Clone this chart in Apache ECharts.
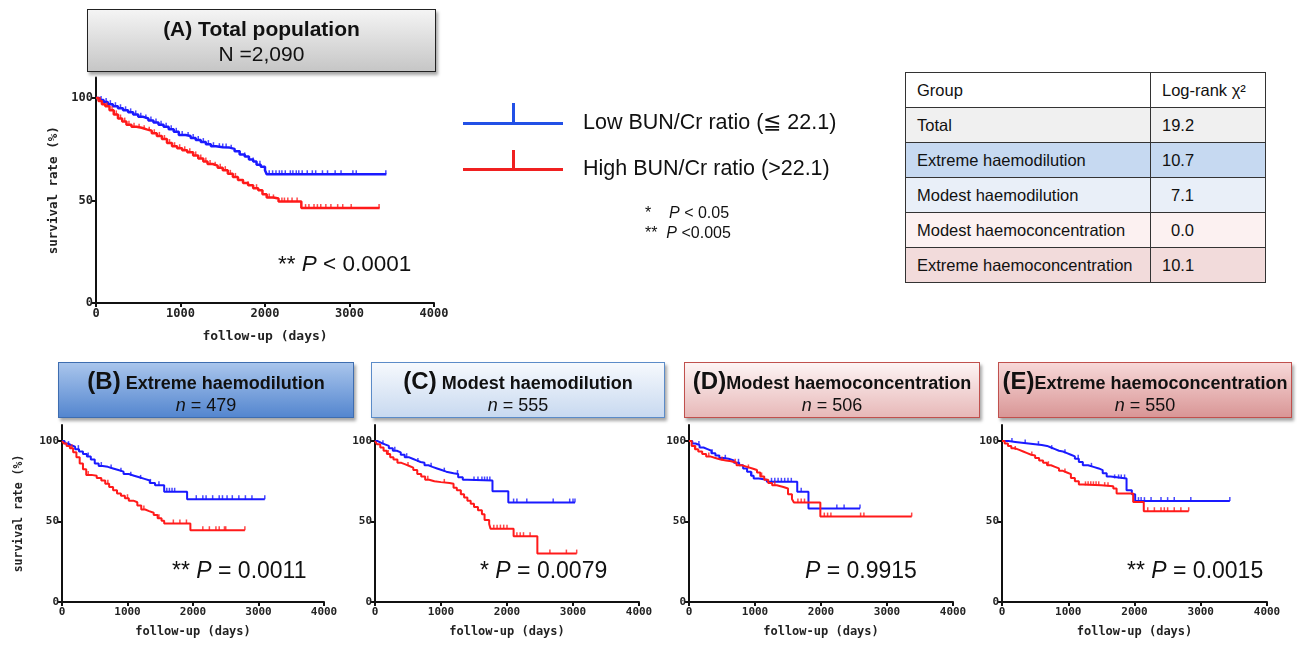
<!DOCTYPE html>
<html>
<head>
<meta charset="utf-8">
<script src="https://cdn.jsdelivr.net/npm/echarts@6.0.0/dist/echarts.min.js"></script>
<style>
  body { margin: 0; background: #fff; font-family: "Liberation Sans", Arial, sans-serif; color: #111; }
  #chart { position: absolute; left: 0; top: 0; width: 1297px; height: 660px; }
  .box { position: absolute; box-sizing: border-box; text-align: center; white-space: nowrap;
         box-shadow: 2px 3px 3px rgba(0,0,0,0.35); }
  .box .t1 { font-weight: bold; font-size: 18px; line-height: 22px; }
  .box .t1 b { font-size: 24px; }
  .box .t2 { font-size: 18px; line-height: 22px; }
  .pval { position: absolute; font-size: 23px; line-height: 1; white-space: nowrap; }
  .legline { position: absolute; height: 3px; width: 100px; }
  .legtick { position: absolute; width: 3px; height: 20px; }
  .legtext { position: absolute; font-size: 21.5px; line-height: 24px; white-space: nowrap; }
  .sig { position: absolute; font-size: 16px; line-height: 20px; white-space: nowrap; }
  table.chi { position: absolute; left: 905px; top: 72px; border-collapse: collapse; font-size: 16.5px; }
  table.chi td { border: 1.5px solid #333; height: 35px; padding: 0 0 0 11px; box-sizing: border-box; }
</style>
</head>
<body>
<div id="chart"></div>

<div class="box" style="left:87px;top:9px;width:349px;height:63px;border:1px solid #222;
  background:linear-gradient(#f4f4f4,#c6c6c6);padding-top:6px;">
  <div class="t1" style="font-size:21px;line-height:25px;">(A) Total population</div>
  <div class="t2" style="font-size:21px;line-height:25px;">N =2,090</div>
</div>
<div class="box" style="left:58px;top:362px;width:296px;height:56px;border:1px solid #3e6db0;
  background:linear-gradient(#a9c5ec,#5486cf);padding-top:7px;">
  <div class="t1"><b>(B)</b> Extreme haemodilution</div>
  <div class="t2"><i>n</i> = 479</div>
</div>
<div class="box" style="left:371px;top:362px;width:294px;height:56px;border:1px solid #5b8bc8;
  background:linear-gradient(#f6f9fd,#c8d9f0);padding-top:7px;">
  <div class="t1"><b>(C)</b> Modest haemodilution</div>
  <div class="t2"><i>n</i> = 555</div>
</div>
<div class="box" style="left:684px;top:362px;width:296px;height:56px;border:1px solid #c0504d;
  background:linear-gradient(#fdf4f4,#e7b8b8);padding-top:7px;">
  <div class="t1"><b>(D)</b>Modest haemoconcentration</div>
  <div class="t2"><i>n</i> = 506</div>
</div>
<div class="box" style="left:998px;top:362px;width:294px;height:56px;border:1px solid #c0504d;
  background:linear-gradient(#f7d8d8,#d99696);padding-top:7px;">
  <div class="t1"><b>(E)</b>Extreme haemoconcentration</div>
  <div class="t2"><i>n</i> = 550</div>
</div>

<div class="pval" style="left:278px;top:253px;font-size:22.5px;">** <i>P</i> &lt; 0.0001</div>
<div class="pval" style="left:172px;top:559px;">** <i>P</i> = 0.0011</div>
<div class="pval" style="left:480px;top:559px;">* <i>P</i> = 0.0079</div>
<div class="pval" style="left:805px;top:559px;"><i>P</i> = 0.9915</div>
<div class="pval" style="left:1127px;top:559px;">** <i>P</i> = 0.0015</div>

<div class="legline" style="left:463px;top:122px;background:#2250e6;"></div>
<div class="legtick" style="left:512px;top:103px;background:#2250e6;"></div>
<div class="legtext" style="left:583px;top:110px;">Low BUN/Cr ratio (≦ 22.1)</div>
<div class="legline" style="left:463px;top:168px;background:#f02020;"></div>
<div class="legtick" style="left:512px;top:150px;background:#f02020;"></div>
<div class="legtext" style="left:583px;top:156px;">High BUN/Cr ratio (&gt;22.1)</div>
<div class="sig" style="left:645px;top:203px;">*&nbsp;&nbsp;&nbsp; <i>P</i> &lt; 0.05</div>
<div class="sig" style="left:645px;top:223px;">** &nbsp;<i>P</i> &lt;0.005</div>

<table class="chi">
  <tr style="background:#ffffff"><td style="width:245px">Group</td><td style="width:115px">Log-rank χ²</td></tr>
  <tr style="background:#f0f0f0"><td>Total</td><td>19.2</td></tr>
  <tr style="background:#c6d9f1"><td>Extreme haemodilution</td><td>10.7</td></tr>
  <tr style="background:#e9eff8"><td>Modest haemodilution</td><td style="padding-left:20px">7.1</td></tr>
  <tr style="background:#fcf1f1"><td>Modest haemoconcentration</td><td style="padding-left:20px">0.0</td></tr>
  <tr style="background:#f2dbdb"><td>Extreme haemoconcentration</td><td>10.1</td></tr>
</table>

<script>
// Kaplan-Meier curves: [days, survival %]
var totalLow = [[0,100],[40,99],[90,98],[140,97],[200,96],[260,95],[320,94],[380,93],[440,92],[500,90.8],[560,90],[620,89],[680,88],[740,87],[800,86],[860,84.8],[920,83.5],[980,82],[1060,81.5],[1120,80.5],[1180,79.5],[1240,78.5],[1300,77.5],[1360,76.5],[1420,76],[1500,75.8],[1580,75.2],[1640,74],[1700,72.5],[1760,71.5],[1810,70],[1860,69],[1900,67.5],[1950,66.5],[2000,64.8],[2020,62.8],[3436,62.8]];
var totalHigh = [[0,100],[30,98.5],[70,97],[110,96],[160,94],[210,92],[260,90],[310,88.5],[360,87],[420,86],[480,85.5],[540,84.7],[600,84],[660,82.8],[720,81.5],[780,80],[840,78],[900,76.5],[960,75.5],[1020,74.5],[1080,73.5],[1150,72],[1210,70.5],[1270,69],[1320,67.8],[1380,67],[1440,66],[1500,64.8],[1560,63],[1620,61.5],[1680,60],[1740,58.5],[1800,57.5],[1860,56],[1920,55],[1970,53],[2020,51.5],[2100,51],[2160,49.5],[2430,46.3],[3357,46.3]];
var totalLowCens = [60,120,170,230,290,350,410,470,530,590,650,710,770,830,890,950,1020,1090,1150,1210,1270,1330,1390,1460,1500,1540,1600,1700,1760,1860,1940,2050,2090,2130,2170,2200,2240,2300,2330,2370,2400,2440,2500,2560,2600,2680,2740,2830,2900,3040,3080,3430];
var totalHighCens = [50,130,190,240,290,340,390,450,510,570,630,690,750,810,870,930,990,1050,1110,1180,1240,1300,1350,1410,1470,1530,1590,1650,1740,1800,1900,2050,2100,2200,2230,2270,2320,2380,2480,2520,2580,2620,2660,2720,2780,2860,2920,3020,3350];

var extDilLow = [[0,100],[40,98.5],[90,97.5],[140,96.5],[200,95],[260,93.5],[320,92],[380,90.5],[440,88.5],[500,86],[560,84.5],[620,84],[700,83],[780,82],[860,81],[940,79.5],[1020,78.5],[1100,77.5],[1180,76.5],[1260,75.5],[1340,74],[1420,72.5],[1560,68.5],[1910,63.9],[3096,63.9]];
var extDilHigh = [[0,100],[30,98.5],[70,97],[120,95.5],[170,93],[220,90],[270,86],[320,82.5],[370,79],[450,78.5],[530,77],[600,75.5],[660,73.5],[720,71.5],[780,69.5],[840,67.5],[900,66],[960,64.5],[1020,63],[1090,62],[1150,60],[1210,57.5],[1270,56.5],[1330,55.5],[1400,54],[1460,52],[1520,50.5],[1560,48.8],[1960,44.6],[2792,44.6]];
var extDilLowCens = [100,250,400,600,750,900,1050,1200,1350,1480,1600,1640,1680,1720,2050,2150,2200,2300,2400,2450,2520,2600,2700,2800,2900,3096];
var extDilHighCens = [150,400,700,1000,1250,1480,1700,1800,1900,2150,2250,2350,2400,2480,2500,2792];

var modDilLow = [[0,100],[40,99],[90,98],[150,97],[210,95.5],[270,94],[330,93],[390,91.5],[450,90],[510,89],[570,88],[630,87],[690,86.5],[750,85],[810,84],[870,83],[940,82],[1010,81],[1080,80],[1190,79.5],[1260,77.5],[1330,76],[1400,75.5],[1780,68.9],[2020,61.8],[3030,61.8]];
var modDilHigh = [[0,100],[30,98],[80,96],[130,94],[180,92],[230,90],[280,88.5],[340,86.5],[400,85.5],[460,84.5],[520,83.5],[580,82],[640,79.5],[700,78],[760,76],[820,75],[900,74.5],[1000,74],[1130,73.5],[1190,71],[1240,69.5],[1300,67],[1350,65],[1400,63],[1450,61],[1500,59],[1560,57],[1620,54.5],[1660,51],[1730,48.5],[1750,45.6],[2100,40.9],[2460,30.1],[3056,30.1]];
var modDilLowCens = [120,300,480,650,850,1050,1250,1500,1560,1620,1660,1700,1740,2100,2150,2300,2700,2950,3000,3030];
var modDilHighCens = [200,500,800,1050,1300,1800,1850,1900,1950,2000,2150,2200,2250,2350,2650,2900,3056];

var modConLow = [[0,100],[50,98.5],[100,97.5],[160,96],[220,95],[280,94],[340,92.5],[400,91],[460,89.5],[520,89],[600,88],[680,86.5],[760,85],[820,83],[880,81],[940,78.5],[980,76.8],[1060,76],[1180,74.7],[1640,68.5],[1810,58.1],[2591,58.1]];
var modConHigh = [[0,100],[40,97],[90,95],[140,93.5],[200,92],[260,90.5],[320,89.5],[400,88.5],[480,88],[560,87.5],[640,86.5],[720,85],[800,84],[880,83],[960,82],[1030,80.5],[1080,78],[1140,76],[1200,74],[1260,72.5],[1330,71.5],[1430,70.5],[1500,67],[1560,64],[1590,61.8],[1990,53.1],[3374,53.1]];
var modConLowCens = [150,350,550,750,950,1250,1300,1350,1400,1450,1500,1550,1700,2240,2350,2591];
var modConHighCens = [100,300,500,700,900,1100,1300,1650,1700,1750,2050,2100,2150,2600,2650,3374];

var extConLow = [[0,100],[100,99.5],[200,99],[300,98.5],[400,98],[500,97.5],[600,97],[680,96],[740,95],[800,94],[860,93.5],[920,92.5],[980,91.5],[1040,90.5],[1100,89],[1160,87],[1220,85],[1300,84],[1380,83],[1460,82],[1520,80],[1580,78],[1640,76.8],[1880,69.5],[1960,67],[2010,62.7],[3439,62.7]];
var extConHigh = [[0,100],[40,98.5],[90,97],[140,95.5],[200,94.5],[260,93.5],[320,92.5],[380,91.5],[440,91],[500,89.5],[560,88],[620,86.5],[680,85],[740,84],[800,83],[860,81.5],[920,80.5],[980,79.5],[1040,77],[1100,75],[1160,73],[1220,72.5],[1500,72],[1680,70.5],[1730,67.4],[1980,62.2],[2140,56.4],[2818,56.4]];
var extConLowCens = [150,350,550,750,950,1150,1350,1700,1760,1800,1850,2060,2100,2150,2250,2400,2500,2600,2850,3439];
var extConHighCens = [200,450,700,950,1260,1300,1340,1380,1420,1460,1550,1600,2200,2300,2400,2450,2500,2600,2700,2818];

var xTicks = [0, 1000, 2000, 3000, 4000];
var yTicks = [0, 50, 100];

var panels = [
  { low: totalLow, high: totalHigh, lowC: totalLowCens, highC: totalHighCens,
    grid: { left: 96, top: 77.5, width: 338, height: 225.5 }, font: 12, yName: true, big: true },
  { low: extDilLow, high: extDilHigh, lowC: extDilLowCens, highC: extDilHighCens,
    grid: { left: 62, top: 425, width: 262, height: 177 }, font: 11, yName: true },
  { low: modDilLow, high: modDilHigh, lowC: modDilLowCens, highC: modDilHighCens,
    grid: { left: 375, top: 425, width: 264, height: 177 }, font: 11 },
  { low: modConLow, high: modConHigh, lowC: modConLowCens, highC: modConHighCens,
    grid: { left: 689, top: 425, width: 264, height: 177 }, font: 11 },
  { low: extConLow, high: extConHigh, lowC: extConLowCens, highC: extConHighCens,
    grid: { left: 1002, top: 425, width: 265, height: 177 }, font: 11 }
];

var BLUE = '#1a1aff', RED = '#ff1a1a';
var axisFont = '"DejaVu Sans Mono", monospace';

// survival at a censor time = last step at or before it
function survAt(curve, t) {
  var s = curve[0][1];
  for (var i = 0; i < curve.length; i++) {
    if (curve[i][0] <= t) s = curve[i][1];
  }
  return s;
}

var grids = [], xAxes = [], yAxes = [], series = [];
panels.forEach(function (p, i) {
  grids.push(p.grid);
  xAxes.push({
    type: 'value', gridIndex: i, min: 0, max: 4000, interval: 1000,
    name: 'follow-up (days)', nameLocation: 'middle', nameGap: p.big ? 27 : 24,
    nameTextStyle: { fontFamily: axisFont, fontWeight: 'bold', fontSize: p.font + 1, color: '#222' },
    axisLine: { lineStyle: { color: '#111', width: 2 } },
    axisTick: { length: 4, customValues: xTicks, lineStyle: { color: '#111', width: 2 } },
    axisLabel: { customValues: xTicks, fontFamily: axisFont, fontWeight: 'bold', fontSize: p.font,
      color: '#222', margin: 5, formatter: function (v) { return String(v); } },
    splitLine: { show: false }
  });
  yAxes.push({
    type: 'value', gridIndex: i, min: 0, max: 110,
    name: p.yName ? 'survival rate (%)' : '', nameLocation: 'middle', nameGap: p.big ? 36 : 37,
    nameTextStyle: { fontFamily: axisFont, fontWeight: 'bold', fontSize: p.font + 0.5, color: '#222' },
    axisLine: { show: true, lineStyle: { color: '#111', width: 2 } },
    axisTick: { show: true, length: 4, customValues: yTicks, lineStyle: { color: '#111', width: 2 } },
    axisLabel: { customValues: yTicks, fontFamily: axisFont, fontWeight: 'bold', fontSize: p.font,
      color: '#222', margin: 3 },
    splitLine: { show: false }
  });
  [[p.low, p.lowC, BLUE], [p.high, p.highC, RED]].forEach(function (c) {
    series.push({
      type: 'line', xAxisIndex: i, yAxisIndex: i, step: 'end', data: c[0],
      showSymbol: false, silent: true, lineStyle: { color: c[2], width: p.big ? 2.5 : 2 }, z: 3
    });
    series.push({
      type: 'scatter', xAxisIndex: i, yAxisIndex: i, silent: true,
      data: c[1].map(function (t) { return [t, survAt(c[0], t)]; }),
      symbol: 'rect', symbolSize: [1.5, 4], symbolOffset: [0, -2],
      itemStyle: { color: c[2] }, z: 4
    });
  });
});

var chart = echarts.init(document.getElementById('chart'));
chart.setOption({
  animation: false,
  grid: grids,
  xAxis: xAxes,
  yAxis: yAxes,
  series: series
});
</script>
</body>
</html>
